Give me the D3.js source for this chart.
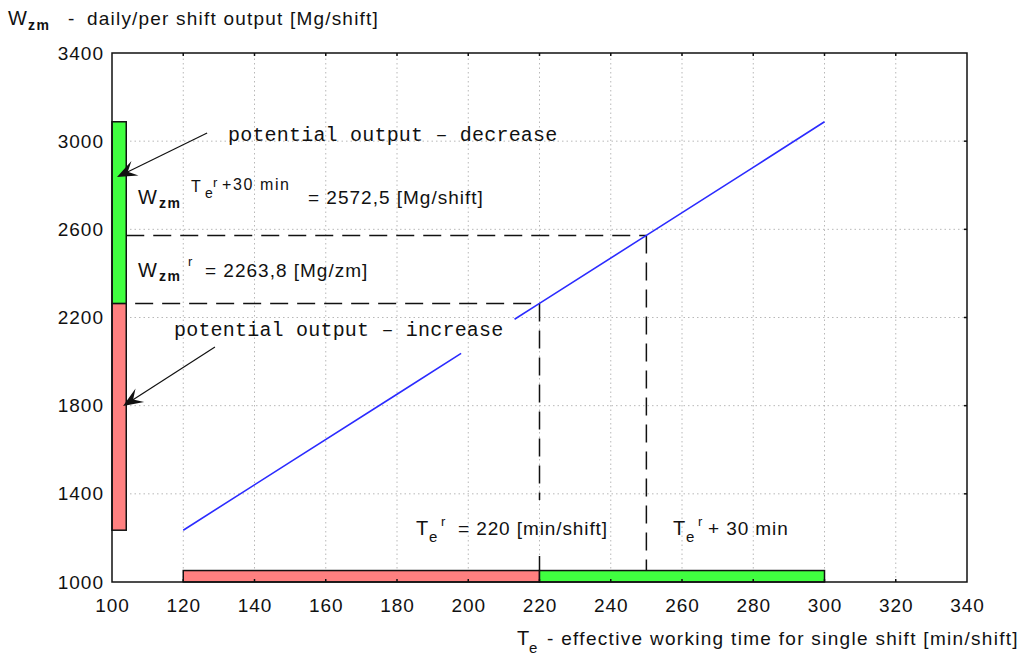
<!DOCTYPE html>
<html>
<head>
<meta charset="utf-8">
<script src="https://cdn.jsdelivr.net/npm/d3@7"></script>
<style>
  html, body { margin: 0; padding: 0; background: #fff; }
  svg { display: block; }
  text { font-family: "Liberation Sans", Arial, sans-serif; fill: #111; }
  .mono { font-family: "Liberation Mono", "Courier New", monospace; }
</style>
</head>
<body>
<div class="draw"></div>
<script>
// values
var xTicks = [100, 120, 140, 160, 180, 200, 220, 240, 260, 280, 300, 320, 340];
var yTicks = [1000, 1400, 1800, 2200, 2600, 3000, 3400];
// blue output line, drawn in two pieces (break behind the "increase" label)
var outputLine = [
  [[120, 1235], [150, 1544], [180, 1852], [198, 2037]],
  [[213, 2192], [220, 2263.8], [250, 2572.5], [280, 2881], [300, 3088]]
];
var baseT = 220, shiftedT = 250;
var baseW = 2263.8, shiftedW = 2572.5;
var lineMinW = 1235, lineMaxW = 3088;
var tMin = 120, tMax = 300;
var barBottomTop = 1052;   // top of horizontal bar (in W units)
var barLeftRight = 104;    // right edge of vertical bar (in T units)
var gap220 = [1118, 1372]; // break in the T=220 dashed line behind its label

var size = { w: 1024, h: 656 };
var x = d3.scaleLinear().domain([100, 340]).range([112, 967]);
var y = d3.scaleLinear().domain([1000, 3400]).range([582, 53]);

var svg = d3.select('.draw').append('svg')
  .attr('width', size.w).attr('height', size.h)
  .attr('viewBox', [0, 0, size.w, size.h].join(' '));

// grid
var grid = svg.append('g').attr('class', 'grid')
  .attr('stroke', '#b8b8b8').attr('stroke-width', 1).attr('stroke-dasharray', '1.5,3');
grid.selectAll('line.gx').data(xTicks.slice(1, -1)).enter().append('line')
  .attr('x1', function(d) { return x(d); }).attr('x2', function(d) { return x(d); })
  .attr('y1', y(1000)).attr('y2', y(3400));
grid.selectAll('line.gy').data(yTicks.slice(1, -1)).enter().append('line')
  .attr('y1', function(d) { return y(d); }).attr('y2', function(d) { return y(d); })
  .attr('x1', x(100)).attr('x2', x(340));

// axes (labels only, ticks drawn inward)
var xAxis = d3.axisBottom(x).tickValues(xTicks).tickFormat(d3.format('d')).tickSize(0).tickPadding(17);
var yAxis = d3.axisLeft(y).tickValues(yTicks).tickFormat(d3.format('d')).tickSize(0).tickPadding(8);
var gx = svg.append('g').attr('transform', 'translate(0,' + y(1000) + ')').call(xAxis);
var gy = svg.append('g').attr('transform', 'translate(' + x(100) + ',0)').call(yAxis);
[gx, gy].forEach(function(g) {
  g.select('.domain').remove();
  g.selectAll('text').attr('font-size', 19).attr('fill', '#111')
    .attr('font-family', '"Liberation Sans", Arial, sans-serif').style('letter-spacing', '1px');
});

// bars along the axes
var bars = svg.append('g').attr('stroke', '#111').attr('stroke-width', 1.5);
bars.append('rect')
  .attr('x', x(100)).attr('width', x(barLeftRight) - x(100))
  .attr('y', y(baseW)).attr('height', y(lineMinW) - y(baseW))
  .attr('fill', '#ff8080');
bars.append('rect')
  .attr('x', x(100)).attr('width', x(barLeftRight) - x(100))
  .attr('y', y(lineMaxW)).attr('height', y(baseW) - y(lineMaxW))
  .attr('fill', '#40ff40');
bars.append('rect')
  .attr('x', x(tMin)).attr('width', x(baseT) - x(tMin))
  .attr('y', y(barBottomTop)).attr('height', y(1000) - y(barBottomTop))
  .attr('fill', '#ff8080');
bars.append('rect')
  .attr('x', x(baseT)).attr('width', x(tMax) - x(baseT))
  .attr('y', y(barBottomTop)).attr('height', y(1000) - y(barBottomTop))
  .attr('fill', '#40ff40');

// dashed reference lines
var dash = svg.append('g').attr('stroke', '#111').attr('stroke-width', 1.5)
  .attr('stroke-dasharray', '18,9').attr('fill', 'none');
dash.append('line').attr('x1', x(barLeftRight)).attr('x2', x(shiftedT))
  .attr('y1', y(shiftedW)).attr('y2', y(shiftedW));
dash.append('line').attr('x1', x(106.5)).attr('x2', x(baseT))
  .attr('y1', y(baseW)).attr('y2', y(baseW));
dash.append('line').attr('x1', x(baseT)).attr('x2', x(baseT))
  .attr('y1', y(baseW)).attr('y2', y(gap220[1]));
dash.append('line').attr('x1', x(baseT)).attr('x2', x(baseT))
  .attr('y1', y(gap220[0])).attr('y2', y(barBottomTop));
dash.append('line').attr('x1', x(shiftedT)).attr('x2', x(shiftedT))
  .attr('y1', y(shiftedW)).attr('y2', y(barBottomTop));

// output line
var line = d3.line().x(function(d) { return x(d[0]); }).y(function(d) { return y(d[1]); });
svg.append('g').selectAll('path').data(outputLine).enter().append('path')
  .attr('d', line).attr('fill', 'none').attr('stroke', '#2b2bff').attr('stroke-width', 1.6);

// frame with small inward ticks
svg.append('rect').attr('x', x(100)).attr('y', y(3400))
  .attr('width', x(340) - x(100)).attr('height', y(1000) - y(3400))
  .attr('fill', 'none').attr('stroke', '#111').attr('stroke-width', 1.5);
var ticks = svg.append('g').attr('stroke', '#111').attr('stroke-width', 1.5);
xTicks.slice(1, -1).forEach(function(t) {
  ticks.append('line').attr('x1', x(t)).attr('x2', x(t)).attr('y1', y(3400)).attr('y2', y(3400) + 3);
  ticks.append('line').attr('x1', x(t)).attr('x2', x(t)).attr('y1', y(1000)).attr('y2', y(1000) - 3);
});
yTicks.slice(1, -1).forEach(function(v) {
  ticks.append('line').attr('y1', y(v)).attr('y2', y(v)).attr('x1', x(340)).attr('x2', x(340) - 3);
});

// arrows
function arrow(g, from, to) {
  var x1 = x(from[0]), y1 = y(from[1]), x2 = x(to[0]), y2 = y(to[1]);
  var len = Math.sqrt((x2 - x1) * (x2 - x1) + (y2 - y1) * (y2 - y1));
  var ux = (x2 - x1) / len, uy = (y2 - y1) / len;
  var nx = -uy, ny = ux;
  g.append('line').attr('x1', x1).attr('y1', y1).attr('x2', x2 - ux * 10).attr('y2', y2 - uy * 10)
    .attr('stroke', '#111').attr('stroke-width', 1.2);
  var p = [
    [x2, y2],
    [x2 - ux * 20 + nx * 8, y2 - uy * 20 + ny * 8],
    [x2 - ux * 12, y2 - uy * 12],
    [x2 - ux * 20 - nx * 8, y2 - uy * 20 - ny * 8]
  ];
  g.append('path').attr('d', 'M' + p.map(function(q) { return q.join(','); }).join('L') + 'Z')
    .attr('fill', '#111');
}
var arrows = svg.append('g');
arrow(arrows, [126.7, 3037], [101.4, 2837]);
arrow(arrows, [128.9, 2066], [103.1, 1798]);

// rich text helper: parts placed with pixel offsets from an anchor
function rich(x0, y0, parts) {
  var g = svg.append('g').attr('transform', 'translate(' + x0 + ',' + y0 + ')');
  parts.forEach(function(p) {
    g.append('text')
      .attr('x', p.dx).attr('y', p.dy || 0)
      .attr('font-size', p.size || 19)
      .attr('font-weight', p.bold ? 'bold' : 'normal')
      .style('letter-spacing', (p.ls || 0) + 'px')
      .text(p.t);
  });
  return g;
}

// courier annotations
svg.append('text').attr('class', 'mono').attr('x', 228).attr('y', y(3000))
  .attr('font-size', 20).style('letter-spacing', '0.2px').text('potential output \u2013 decrease');
svg.append('text').attr('class', 'mono').attr('x', 174).attr('y', 336)
  .attr('font-size', 20).style('letter-spacing', '0.2px').text('potential output \u2013 increase');

// W_zm^(Te^r + 30 min)
rich(138, 204, [
  { t: 'W', dx: 0, size: 20 },
  { t: 'zm', dx: 21, dy: 4, size: 14, bold: true, ls: 1.5 },
  { t: 'T', dx: 53, dy: -12, size: 16 },
  { t: 'e', dx: 67, dy: -6, size: 14 },
  { t: 'r', dx: 75, dy: -17, size: 13 },
  { t: '+30 min', dx: 84, dy: -14, size: 16, ls: 1.6 },
  { t: '= 2572,5 [Mg/shift]', dx: 170, dy: 0, size: 19, ls: 1 }
]);
// W_zm^r
rich(138, 277, [
  { t: 'W', dx: 0, size: 20 },
  { t: 'zm', dx: 21, dy: 4, size: 14, bold: true, ls: 1.5 },
  { t: 'r', dx: 50, dy: -11, size: 13 },
  { t: '= 2263,8 [Mg/zm]', dx: 67, dy: 0, size: 19, ls: 1 }
]);
// Te^r = 220
rich(416, 535, [
  { t: 'T', dx: 0, size: 20 },
  { t: 'e', dx: 13, dy: 7, size: 15 },
  { t: 'r', dx: 25, dy: -9, size: 13 },
  { t: '= 220  [min/shift]', dx: 42, dy: 0, size: 19, ls: 0.9 }
]);
// Te^r + 30 min
rich(673, 535, [
  { t: 'T', dx: 0, size: 20 },
  { t: 'e', dx: 13, dy: 7, size: 15 },
  { t: 'r', dx: 25, dy: -9, size: 13 },
  { t: '+ 30 min', dx: 35, dy: 0, size: 19, ls: 0.9 }
]);

// axis titles
rich(8, 25, [
  { t: 'W', dx: 0, size: 20 },
  { t: 'zm', dx: 20, dy: 5, size: 14, bold: true, ls: 1.5 },
  { t: '-', dx: 60, dy: 0, size: 19 },
  { t: 'daily/per shift output [Mg/shift]', dx: 79, dy: 0, size: 19, ls: 1.2 }
]);
rich(517, 645, [
  { t: 'T', dx: 0, size: 20 },
  { t: 'e', dx: 12, dy: 8, size: 15 },
  { t: '- effective working time for single shift [min/shift]', dx: 30, dy: 0, size: 19, ls: 1.3 }
]);
</script>
</body>
</html>
